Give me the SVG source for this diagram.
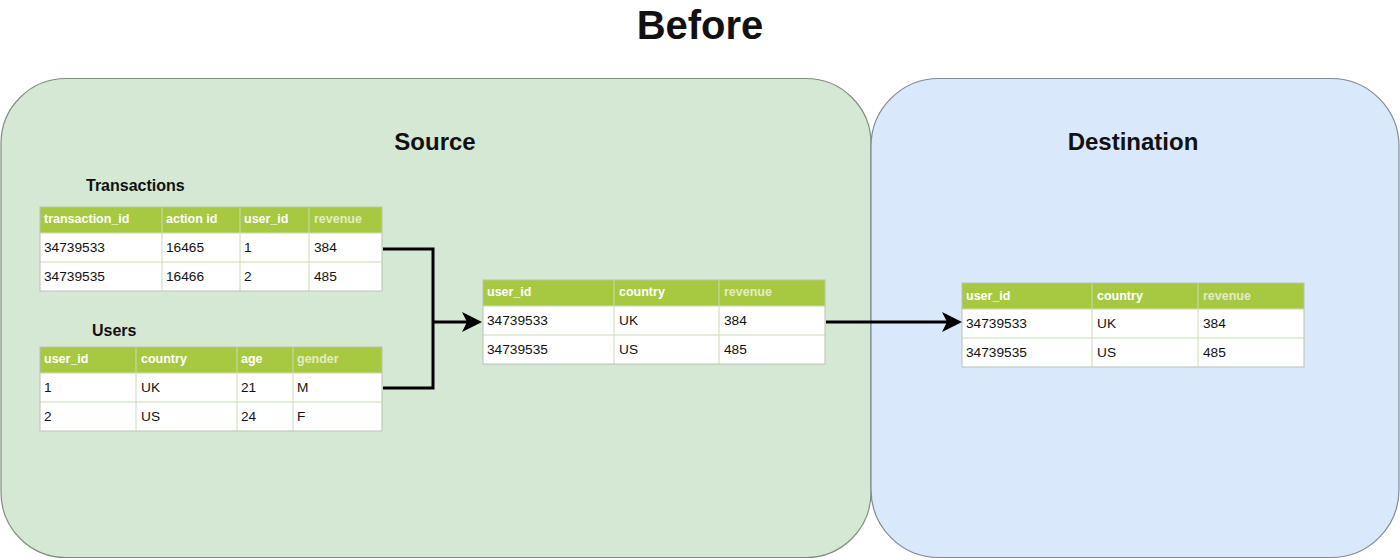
<svg xmlns="http://www.w3.org/2000/svg" width="1400" height="560" viewBox="0 0 1400 560">
<style>
text{font-family:"Liberation Sans",Arial,sans-serif;}
.title{font-size:40px;font-weight:bold;fill:#111;}
.ct{font-size:24px;font-weight:bold;fill:#111;}
.tt{font-size:16px;font-weight:bold;fill:#111;}
.hd{fill:#a7c942;}
.cell{fill:#ffffff;}
.grid{stroke:#c9dcb6;stroke-width:1;fill:none;}
.outer{fill:none;stroke:#b8c4b2;stroke-width:1;}
.h{font-size:12.5px;font-weight:bold;fill:#ffffff;}
.h2{font-size:12.5px;font-weight:bold;fill:#e2ecc4;}
.b{font-size:13.7px;fill:#111;}
.conn{fill:none;stroke:#000;stroke-width:3;}
</style>
<defs>
<marker id="arr" markerUnits="userSpaceOnUse" viewBox="0 0 20 20" markerWidth="20" markerHeight="20" refX="8" refY="10" orient="auto">
<path d="M0,0 L20,10 L0,20 L5,10 Z" fill="#000"/>
</marker>
</defs>
<rect width="1400" height="560" fill="#ffffff"/>
<text class="title" x="700" y="39" text-anchor="middle">Before</text>

<g id="source">
<rect x="1" y="78.5" width="870" height="479" rx="65" ry="65" fill="#d5e8d4" stroke="#7f8f7e" stroke-width="1.2"/>
<text class="ct" x="435" y="150" text-anchor="middle">Source</text>
</g>
<g id="destination">
<rect x="871" y="78.5" width="528" height="479" rx="68" ry="68" fill="#dae8fc" stroke="#7f8a94" stroke-width="1.2"/>
<text class="ct" x="1133" y="150" text-anchor="middle">Destination</text>
</g>

<g id="transactions">
<text class="tt" x="86" y="191">Transactions</text>
<rect class="hd" x="40" y="207" width="342" height="26"/>
<rect class="cell" x="40" y="233" width="342" height="58"/>
<path class="grid" d="M40,233H382M40,262H382M162,207V291M240,207V291M309,207V291"/>
<rect class="outer" x="40" y="207" width="342" height="84"/>
<text class="h" x="44" y="223">transaction_id</text>
<text class="h" x="166" y="223">action id</text>
<text class="h" x="244" y="223">user_id</text>
<text class="h2" x="314" y="223">revenue</text>
<text class="b" x="44" y="252">34739533</text>
<text class="b" x="166" y="252">16465</text>
<text class="b" x="244" y="252">1</text>
<text class="b" x="314" y="252">384</text>
<text class="b" x="44" y="281">34739535</text>
<text class="b" x="166" y="281">16466</text>
<text class="b" x="244" y="281">2</text>
<text class="b" x="314" y="281">485</text>
</g>

<g id="users">
<text class="tt" x="92" y="336">Users</text>
<rect class="hd" x="40" y="347" width="342" height="26"/>
<rect class="cell" x="40" y="373" width="342" height="58"/>
<path class="grid" d="M40,373H382M40,402H382M136,347V431M237,347V431M293,347V431"/>
<rect class="outer" x="40" y="347" width="342" height="84"/>
<text class="h" x="44" y="363">user_id</text>
<text class="h" x="141" y="363">country</text>
<text class="h" x="241" y="363">age</text>
<text class="h2" x="297" y="363">gender</text>
<text class="b" x="44" y="392">1</text>
<text class="b" x="141" y="392">UK</text>
<text class="b" x="241" y="392">21</text>
<text class="b" x="297" y="392">M</text>
<text class="b" x="44" y="421">2</text>
<text class="b" x="141" y="421">US</text>
<text class="b" x="241" y="421">24</text>
<text class="b" x="297" y="421">F</text>
</g>

<g id="joined">
<rect class="hd" x="483" y="280" width="342" height="26"/>
<rect class="cell" x="483" y="306" width="342" height="58"/>
<path class="grid" d="M483,306H825M483,335H825M614,280V364M719,280V364"/>
<rect class="outer" x="483" y="280" width="342" height="84"/>
<text class="h" x="487" y="296">user_id</text>
<text class="h" x="619" y="296">country</text>
<text class="h2" x="724" y="296">revenue</text>
<text class="b" x="487" y="325">34739533</text>
<text class="b" x="619" y="325">UK</text>
<text class="b" x="724" y="325">384</text>
<text class="b" x="487" y="354">34739535</text>
<text class="b" x="619" y="354">US</text>
<text class="b" x="724" y="354">485</text>
</g>

<g id="dest-table">
<rect class="hd" x="962" y="283" width="342" height="26"/>
<rect class="cell" x="962" y="309" width="342" height="58"/>
<path class="grid" d="M962,309H1304M962,338H1304M1092,283V367M1198,283V367"/>
<rect class="outer" x="962" y="283" width="342" height="84"/>
<text class="h" x="966" y="300">user_id</text>
<text class="h" x="1097" y="300">country</text>
<text class="h2" x="1203" y="300">revenue</text>
<text class="b" x="966" y="328">34739533</text>
<text class="b" x="1097" y="328">UK</text>
<text class="b" x="1203" y="328">384</text>
<text class="b" x="966" y="357">34739535</text>
<text class="b" x="1097" y="357">US</text>
<text class="b" x="1203" y="357">485</text>
</g>

<g id="connectors">
<path class="conn" d="M383,249H433V388H383"/>
<path class="conn" d="M433,322H470" marker-end="url(#arr)"/>
<path class="conn" d="M826,322H950" marker-end="url(#arr)"/>
</g>
</svg>
